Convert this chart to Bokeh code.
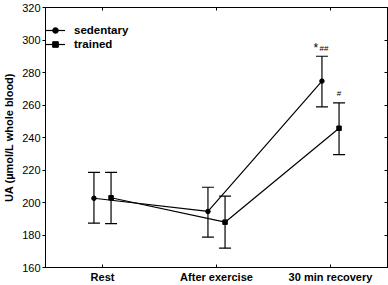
import numpy as np
from bokeh.plotting import figure
from bokeh.models import (FixedTicker, LinearAxis, Range1d, Whisker, TeeHead,
                          ColumnDataSource, Legend, LegendItem, CustomJSTickFormatter)
from bokeh.embed import file_html
from bokeh.resources import INLINE

categories = ["Rest", "After exercise", "30 min recovery"]
sed_mean = [202.6, 194.5, 274.7]
sed_low = [187.3, 178.7, 258.9]
sed_high = [218.5, 209.4, 290.0]
tr_mean = [202.9, 187.9, 245.7]
tr_low = [187.0, 171.9, 229.5]
tr_high = [218.5, 203.9, 261.3]
y_ticks = [160, 180, 200, 220, 240, 260, 280, 300, 320]

FONT = "Liberation Sans"
idx = np.arange(len(categories))
off = 0.075

p = figure(width=388, height=285, output_backend="svg", toolbar_location=None,
           x_range=Range1d(-0.5, 2.5), y_range=Range1d(160, 320),
           min_border_left=45, min_border_right=1, min_border_top=7,
           min_border_bottom=18)
p.xgrid.visible = False
p.ygrid.visible = False
p.outline_line_color = "black"
p.outline_line_width = 1
p.background_fill_color = "white"
p.border_fill_color = "white"

xa = p.xaxis[0]
xa.ticker = FixedTicker(ticks=list(idx))
xa.major_label_overrides = {int(i): c for i, c in zip(idx, categories)}
xa.major_label_text_font = FONT
xa.major_label_text_font_style = "bold"
xa.major_label_text_font_size = "11px"
xa.major_label_text_color = "black"
xa.major_tick_in = 3
xa.major_tick_out = 0
xa.minor_tick_line_color = None
xa.axis_line_color = "black"
xa.major_label_standoff = 3

ya = p.yaxis[0]
ya.ticker = FixedTicker(ticks=y_ticks)
ya.major_label_text_font = FONT
ya.major_label_text_font_size = "11px"
ya.major_label_text_color = "black"
ya.major_tick_in = 0
ya.major_tick_out = 3
ya.minor_tick_line_color = None
ya.major_label_standoff = 2
ya.axis_label = "UA (µmol/L whole blood)"
ya.axis_label_text_font = FONT
ya.axis_label_text_font_style = "bold"
ya.axis_label_text_font_size = "11px"
ya.axis_label_text_color = "black"
ya.axis_label_standoff = 4

blank = CustomJSTickFormatter(code="return '';")
top_ax = LinearAxis(ticker=FixedTicker(ticks=list(idx)), formatter=blank,
                    major_tick_in=3, major_tick_out=0, minor_tick_line_color=None,
                    major_label_standoff=0)
right_ax = LinearAxis(ticker=FixedTicker(ticks=y_ticks), formatter=blank,
                      major_tick_in=3, major_tick_out=0, minor_tick_line_color=None,
                      major_label_standoff=0)
p.add_layout(top_ax, "above")
p.add_layout(right_ax, "right")

sed_src = ColumnDataSource(dict(x=idx - off, y=sed_mean, lo=sed_low, hi=sed_high))
tr_src = ColumnDataSource(dict(x=idx + off, y=tr_mean, lo=tr_low, hi=tr_high))

for src in (sed_src, tr_src):
    w = Whisker(source=src, base="x", upper="hi", lower="lo", line_color="black",
                line_width=1.2,
                upper_head=TeeHead(size=12, line_color="black", line_width=1.2),
                lower_head=TeeHead(size=12, line_color="black", line_width=1.2))
    p.add_layout(w)

l1 = p.line("x", "y", source=sed_src, line_color="black", line_width=1.2)
m1 = p.scatter("x", "y", source=sed_src, marker="circle", size=4.5, color="black")
l2 = p.line("x", "y", source=tr_src, line_color="black", line_width=1.2)
m2 = p.scatter("x", "y", source=tr_src, marker="square", size=4.5, color="black")

ann_sed = ColumnDataSource(dict(x=[idx[2] - off], y=[sed_high[2]], t=["*"]))
ann_sed2 = ColumnDataSource(dict(x=[idx[2] - off], y=[sed_high[2]], t=["##"]))
ann_tr = ColumnDataSource(dict(x=[idx[2] + off], y=[tr_high[2]], t=["#"]))
p.text("x", "y", text="t", source=ann_sed, x_offset=-6, y_offset=-8,
       text_align="center", text_baseline="middle", text_font_size="12px",
       text_font={"value": FONT}, text_color="black")
p.text("x", "y", text="t", source=ann_sed2, x_offset=2, y_offset=-8,
       text_align="center", text_baseline="middle", text_font_size="8px",
       text_font={"value": FONT}, text_color="black")
p.text("x", "y", text="t", source=ann_tr, x_offset=0, y_offset=-9,
       text_align="center", text_baseline="middle", text_font_size="8px",
       text_font={"value": FONT}, text_color="black")

legend = Legend(items=[LegendItem(label="sedentary", renderers=[l1, m1]),
                       LegendItem(label="trained", renderers=[l2, m2])],
                location=(0, 216), padding=5, margin=0, spacing=0,
                glyph_width=20, glyph_height=14, label_height=14,
                label_standoff=9, border_line_color=None,
                background_fill_alpha=0,
                label_text_font=FONT, label_text_font_style="bold",
                label_text_font_size="11.5px", label_text_color="black")
p.add_layout(legend)

open("out.html", "w").write(file_html(p, INLINE))
